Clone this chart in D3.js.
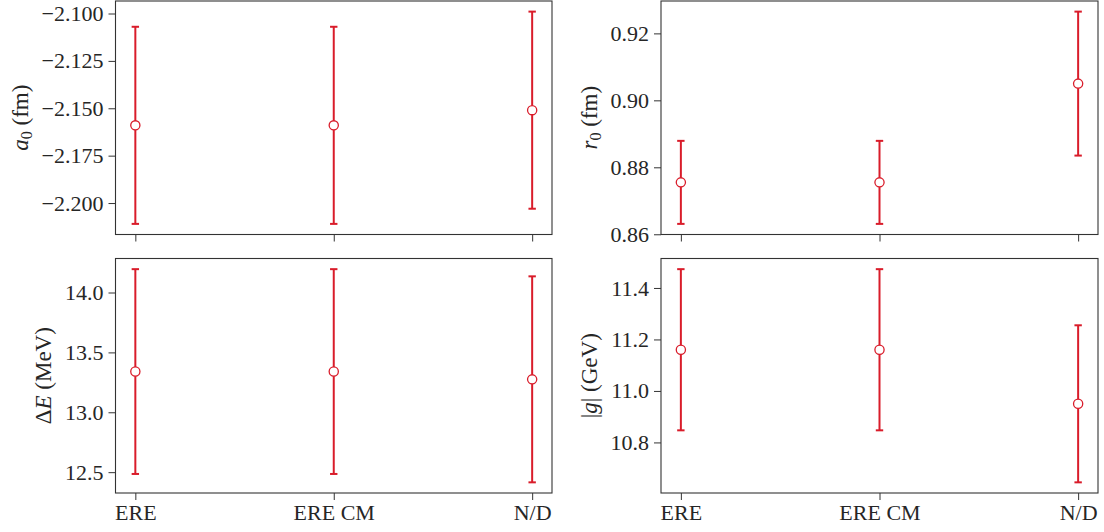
<!DOCTYPE html>
<html><head><meta charset="utf-8">
<script src="https://cdn.jsdelivr.net/npm/d3@7"></script>
<style>
body{margin:0;background:#fff}
svg{display:block}
text{font-family:"Liberation Serif","DejaVu Serif",serif;fill:#262626}
</style>
</head><body>
<svg id="c" width="1104" height="532"></svg>
<script>
const categories = ["ERE", "ERE CM", "N/D"];
const a0Values = [-2.159, -2.159, -2.151];
const a0Errors = [0.052, 0.052, 0.052];
const r0Values = [0.8755, 0.8755, 0.905];
const r0Errors = [0.0124, 0.0124, 0.0215];
const dEValues = [13.34, 13.34, 13.275];
const dEErrors = [0.855, 0.855, 0.86];
const gValues = [11.16, 11.16, 10.95];
const gErrors = [0.313, 0.313, 0.305];
const a0Ticks = [-2.100, -2.125, -2.150, -2.175, -2.200];
const r0Ticks = [0.86, 0.88, 0.90, 0.92];
const dETicks = [12.5, 13.0, 13.5, 14.0];
const gTicks = [10.8, 11.0, 11.2, 11.4];

const RED = "#d91c2a";
const FS = 22;
const LFS = 23;
const svg = d3.select("#c");

const cols = [[115.5, 552], [661, 1098]];
const rows = [[1, 234.5], [258.5, 493]];

const panels = [
  {values: a0Values, errors: a0Errors, ticks: a0Ticks, dec: 3, col: 0, row: 0,
   label: [{t: "a", i: true}, {t: "0", sub: true}, {t: " (fm)"}]},
  {values: r0Values, errors: r0Errors, ticks: r0Ticks, dec: 2, col: 1, row: 0,
   label: [{t: "r", i: true}, {t: "0", sub: true}, {t: " (fm)"}]},
  {values: dEValues, errors: dEErrors, ticks: dETicks, dec: 1, col: 0, row: 1,
   label: [{t: "Δ"}, {t: "E", i: true}, {t: " (MeV)"}]},
  {values: gValues, errors: gErrors, ticks: gTicks, dec: 1, col: 1, row: 1,
   label: [{t: "|"}, {t: "g", i: true}, {t: "| (GeV)"}]}
];

panels.forEach(p => {
  const [x0, x1] = cols[p.col];
  const [y0, y1] = rows[p.row];
  const lo = d3.min(p.values.map((v, i) => v - p.errors[i]));
  const hi = d3.max(p.values.map((v, i) => v + p.errors[i]));
  const m = (hi - lo) * 0.05;
  const x = d3.scalePoint().domain(categories).range([x0, x1]).padding(0.1);
  const y = d3.scaleLinear().domain([lo - m, hi + m]).range([y1, y0]);
  const g = svg.append("g");

  // y axis
  const fmt = d => d3.format("." + p.dec + "f")(d).replace("-", "\u2212");
  const ya = g.append("g").attr("transform", `translate(${x0},0)`)
    .call(d3.axisLeft(y).tickValues(p.ticks).tickFormat(fmt).tickSize(7).tickPadding(5));
  ya.select(".domain").remove();
  ya.selectAll(".tick line").attr("stroke", "#333").attr("stroke-width", 1);
  ya.selectAll(".tick text").attr("font-size", FS).attr("font-family", null).attr("fill", "#262626");

  // x axis
  const xa = g.append("g").attr("transform", `translate(0,${y1})`)
    .call(d3.axisBottom(x).tickSize(7).tickPadding(5));
  xa.select(".domain").remove();
  xa.selectAll(".tick line").attr("stroke", "#333").attr("stroke-width", 1);
  xa.selectAll(".tick text").attr("font-size", FS).attr("font-family", null).attr("fill", "#262626")
    .attr("dy", "0.7em");
  if (p.row === 0) xa.selectAll(".tick text").remove();

  // frame
  g.append("rect").attr("x", x0).attr("y", y0).attr("width", x1 - x0).attr("height", y1 - y0)
    .attr("fill", "none").attr("stroke", "#333").attr("stroke-width", 1.1);

  // error bars
  const cap = 3.7;
  const eb = g.append("g").selectAll("g").data(categories).join("g");
  eb.append("line")
    .attr("x1", c => x(c)).attr("x2", c => x(c))
    .attr("y1", (c, i) => y(p.values[i] - p.errors[i]))
    .attr("y2", (c, i) => y(p.values[i] + p.errors[i]))
    .attr("stroke", RED).attr("stroke-width", 2);
  eb.append("line")
    .attr("x1", c => x(c) - cap).attr("x2", c => x(c) + cap)
    .attr("y1", (c, i) => y(p.values[i] + p.errors[i]))
    .attr("y2", (c, i) => y(p.values[i] + p.errors[i]))
    .attr("stroke", RED).attr("stroke-width", 2);
  eb.append("line")
    .attr("x1", c => x(c) - cap).attr("x2", c => x(c) + cap)
    .attr("y1", (c, i) => y(p.values[i] - p.errors[i]))
    .attr("y2", (c, i) => y(p.values[i] - p.errors[i]))
    .attr("stroke", RED).attr("stroke-width", 2);
  eb.append("circle")
    .attr("cx", c => x(c)).attr("cy", (c, i) => y(p.values[i]))
    .attr("r", 4.6).attr("fill", "#fff").attr("stroke", RED).attr("stroke-width", 1.3);

  // y label
  let minX = Infinity;
  ya.selectAll(".tick text").each(function () {
    const b = this.getBBox();
    const ctm = this.getCTM();
    minX = Math.min(minX, ctm.e + b.x);
  });
  const cx = minX - 22;
  const cy = (y0 + y1) / 2;
  const lt = g.append("text").attr("font-size", LFS)
    .attr("text-anchor", "middle")
    .attr("transform", `translate(${cx},${cy}) rotate(-90)`)
    .attr("dy", "0.35em");
  p.label.forEach((part, k) => {
    const ts = lt.append("tspan").text(part.t);
    if (part.i) ts.attr("font-style", "italic");
    if (part.sub) ts.attr("font-size", LFS * 0.7).attr("dy", 4);
    else if (k > 0 && p.label[k - 1].sub) ts.attr("dy", -4);
  });
});
</script>
</body></html>
